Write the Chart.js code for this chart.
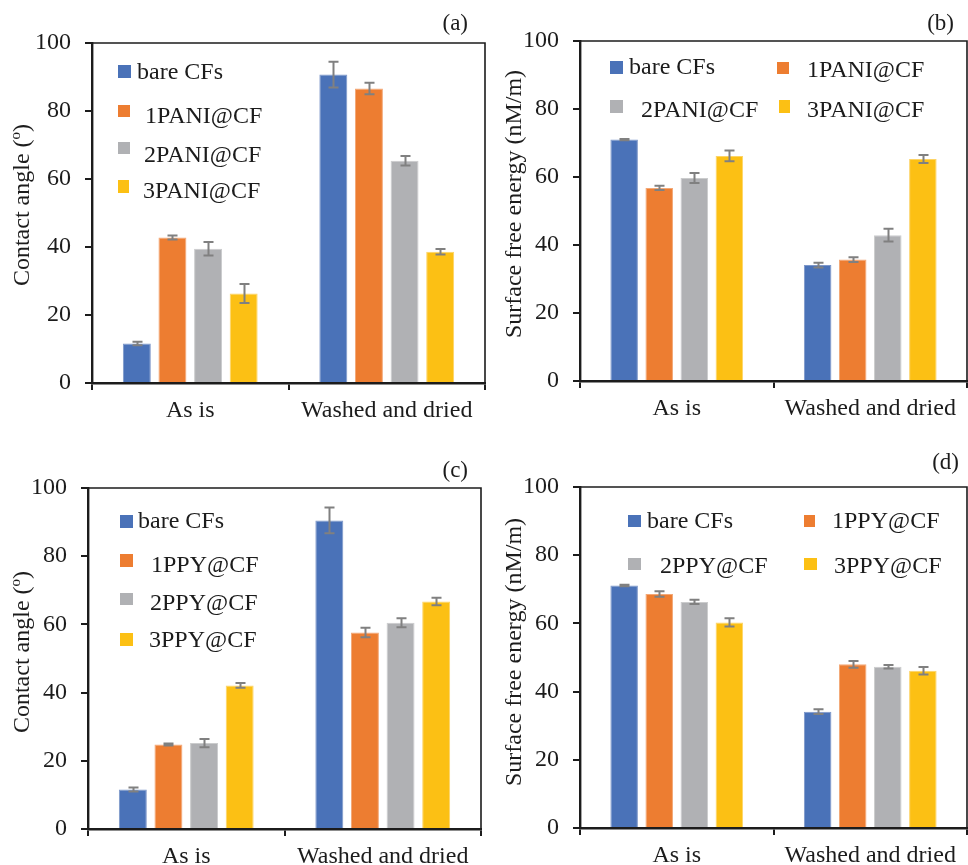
<!DOCTYPE html>
<html><head><meta charset="utf-8">
<script src="https://cdn.jsdelivr.net/npm/chart.js@4.4.1/dist/chart.umd.min.js"></script>
<style>
html,body{margin:0;padding:0;background:#fff;}
body{width:968px;height:865px;position:relative;overflow:hidden;}
canvas{position:absolute;}
</style></head><body>
<canvas id="ca" width="490" height="430" style="left:0;top:0"></canvas>
<canvas id="cb" width="484" height="430" style="left:484px;top:0"></canvas>
<canvas id="cc" width="490" height="435" style="left:0;top:430px"></canvas>
<canvas id="cd" width="484" height="435" style="left:484px;top:430px"></canvas>
<script>
// ---- data ----
const categories = ['As is', 'Washed and dried'];
const yTicks = [0, 20, 40, 60, 80, 100];
const namesPANI = ['bare CFs', '1PANI@CF', '2PANI@CF', '3PANI@CF'];
const namesPPY = ['bare CFs', '1PPY@CF', '2PPY@CF', '3PPY@CF'];

// (a) contact angle, PANI
const caBareA = [11.6, 90.7], caBareAErr = [0.5, 3.8];
const ca1PANI = [42.8, 86.6], ca1PANIErr = [0.6, 1.7];
const ca2PANI = [39.5, 65.4], ca2PANIErr = [2.0, 1.4];
const ca3PANI = [26.3, 38.6], ca3PANIErr = [2.8, 0.8];
// (b) surface free energy, PANI
const sfeBareB = [71.0, 34.1], sfeBareBErr = [0.2, 0.7];
const sfe1PANI = [56.8, 35.7], sfe1PANIErr = [0.6, 0.7];
const sfe2PANI = [59.7, 42.9], sfe2PANIErr = [1.5, 1.9];
const sfe3PANI = [66.2, 65.3], sfe3PANIErr = [1.6, 1.2];
// (c) contact angle, PPY
const caBareC = [11.6, 90.5], caBareCErr = [0.6, 3.8];
const ca1PPY = [24.8, 57.6], ca1PPYErr = [0.3, 1.4];
const ca2PPY = [25.2, 60.5], ca2PPYErr = [1.2, 1.3];
const ca3PPY = [42.1, 66.7], ca3PPYErr = [0.7, 1.1];
// (d) surface free energy, PPY
const sfeBareD = [71.1, 34.1], sfeBareDErr = [0.2, 0.7];
const sfe1PPY = [68.6, 48.0], sfe1PPYErr = [0.8, 1.0];
const sfe2PPY = [66.3, 47.3], sfe2PPYErr = [0.6, 0.5];
const sfe3PPY = [60.3, 46.1], sfe3PPYErr = [1.2, 1.1];

// ---- style ----
const SERIF = '"Liberation Serif", "Times New Roman", serif';
const INK = '#1c1c1c';
const FILLS = ['#4a72b8', '#ed7d31', '#b0b1b4', '#fcc014'];
const EDGES = ['#7d97c9', '#f3a877', '#cbcccd', '#fdd466'];

const decor = {
  id: 'decor',
  afterDatasetsDraw(chart, args, o) {
    const ctx = chart.ctx, y = chart.scales.y;
    ctx.save();
    ctx.strokeStyle = '#808080'; ctx.lineWidth = 2;
    chart.data.datasets.forEach((ds, di) => {
      const meta = chart.getDatasetMeta(di);
      meta.data.forEach((bar, i) => {
        const v = ds.data[i], e = ds.errorBars[i];
        const y1 = y.getPixelForValue(v + e), y2 = y.getPixelForValue(v - e);
        const x = Math.round(bar.x) + 0.5;
        ctx.beginPath();
        ctx.moveTo(x, y1); ctx.lineTo(x, y2);
        ctx.moveTo(x - 5, y1); ctx.lineTo(x + 5, y1);
        ctx.moveTo(x - 5, y2); ctx.lineTo(x + 5, y2);
        ctx.stroke();
      });
    });
    ctx.restore();
  },
  afterDraw(chart, args, o) {
    const ctx = chart.ctx, a = chart.chartArea;
    ctx.save();
    // frame top & right
    ctx.strokeStyle = INK; ctx.lineWidth = 1.6;
    ctx.beginPath();
    ctx.moveTo(a.left, a.top); ctx.lineTo(a.right, a.top); ctx.lineTo(a.right, a.bottom);
    ctx.stroke();
    // legend
    ctx.font = '24px ' + SERIF; ctx.fillStyle = INK; ctx.textBaseline = 'alphabetic'; ctx.textAlign = 'left';
    chart.data.datasets.forEach((ds, i) => {
      const L = o.legend[i];
      ctx.fillStyle = ds.backgroundColor;
      ctx.fillRect(L[0], L[1], L[2], L[3]);
      ctx.fillStyle = INK;
      ctx.fillText(ds.label, L[4], L[5]);
    });
    // tag
    ctx.font = '23px ' + SERIF; ctx.textAlign = 'right';
    ctx.fillText(o.tag, o.tagX, o.tagY);
    // y title
    ctx.translate(o.titleX, o.titleY);
    ctx.rotate(-Math.PI / 2);
    ctx.textBaseline = 'middle'; ctx.textAlign = 'left';
    let total = 0;
    const parts = o.title.map(p => {
      ctx.font = (p.sup ? '15px ' : '24px ') + SERIF;
      const w = ctx.measureText(p.t).width; total += w; return w;
    });
    let x = -total / 2;
    o.title.forEach((p, i) => {
      ctx.font = (p.sup ? '15px ' : '24px ') + SERIF;
      ctx.fillText(p.t, x, p.sup ? -7 : 0);
      x += parts[i];
    });
    ctx.restore();
  }
};

function makeChart(id, P, names, vals, errs, title) {
  return new Chart(document.getElementById(id), {
    type: 'bar',
    data: {
      labels: categories,
      datasets: names.map((n, i) => ({
        label: n, data: vals[i], errorBars: errs[i],
        backgroundColor: FILLS[i], borderColor: EDGES[i], borderWidth: 1,
        categoryPercentage: 0.725, barPercentage: 0.785
      }))
    },
    options: {
      responsive: false, animation: false, devicePixelRatio: 1,
      layout: { padding: { top: P.area.t, right: P.w - P.area.r, left: 0, bottom: 0 } },
      plugins: {
        legend: { display: false }, tooltip: { enabled: false },
        decor: { legend: P.legend, tag: P.tag, tagX: P.tagX, tagY: P.tagY, titleX: P.titleX, titleY: P.titleY, title: title }
      },
      scales: {
        x: {
          grid: { offset: true, drawOnChartArea: false, drawTicks: true, tickLength: 7, color: INK, lineWidth: 2 },
          border: { color: INK, width: 2.4 },
          ticks: { font: { family: SERIF, size: 24 }, color: INK, padding: 6, maxRotation: 0, autoSkip: false },
          afterFit: s => { s.height = P.h - P.area.b; }
        },
        y: {
          min: 0, max: 100,
          afterBuildTicks: s => { s.ticks = yTicks.map(v => ({ value: v })); },
          grid: { drawOnChartArea: false, drawTicks: true, tickLength: 7, color: INK, lineWidth: 2 },
          border: { color: INK, width: 2.4 },
          ticks: { font: { family: SERIF, size: 24 }, color: INK, padding: 14 },
          afterFit: s => { s.width = P.area.l; }
        }
      }
    },
    plugins: [decor]
  });
}

const caTitle = [{ t: 'Contact angle (' }, { t: 'o', sup: true }, { t: ')' }];
const sfeTitle = [{ t: 'Surface free energy (nM/m)' }];

makeChart('ca', {
  w: 490, h: 430, area: { l: 92, t: 43, r: 485, b: 383 },
  tag: '(a)', tagX: 468, tagY: 30, titleX: 23, titleY: 205,
  legend: [[118, 65, 13, 13, 137, 79], [118, 105, 12, 12, 145, 123], [118, 142, 12, 12, 144, 162], [118, 180, 11, 13, 143, 198]]
}, namesPANI, [caBareA, ca1PANI, ca2PANI, ca3PANI], [caBareAErr, ca1PANIErr, ca2PANIErr, ca3PANIErr], caTitle);

makeChart('cb', {
  w: 484, h: 430, area: { l: 96, t: 41, r: 483, b: 381 },
  tag: '(b)', tagX: 470, tagY: 30, titleX: 31, titleY: 204,
  legend: [[126, 61, 13, 13, 145, 74], [293, 62, 12, 12, 323, 77], [126, 100, 13, 13, 157, 117], [295, 100, 11, 13, 323, 117]]
}, namesPANI, [sfeBareB, sfe1PANI, sfe2PANI, sfe3PANI], [sfeBareBErr, sfe1PANIErr, sfe2PANIErr, sfe3PANIErr], sfeTitle);

makeChart('cc', {
  w: 490, h: 435, area: { l: 88, t: 58, r: 481, b: 399 },
  tag: '(c)', tagX: 468, tagY: 47, titleX: 23, titleY: 222,
  legend: [[120, 85, 13, 13, 138, 98], [120, 124, 13, 13, 151, 142], [120, 163, 13, 12, 150, 180], [120, 203, 13, 13, 149, 217]]
}, namesPPY, [caBareC, ca1PPY, ca2PPY, ca3PPY], [caBareCErr, ca1PPYErr, ca2PPYErr, ca3PPYErr], caTitle);

makeChart('cd', {
  w: 484, h: 435, area: { l: 96, t: 57, r: 483, b: 398 },
  tag: '(d)', tagX: 475, tagY: 39, titleX: 31, titleY: 222,
  legend: [[144, 85, 13, 12, 163, 98], [320, 85, 11, 12, 348, 98], [144, 128, 13, 12, 176, 143], [320, 128, 13, 12, 350, 143]]
}, namesPPY, [sfeBareD, sfe1PPY, sfe2PPY, sfe3PPY], [sfeBareDErr, sfe1PPYErr, sfe2PPYErr, sfe3PPYErr], sfeTitle);
</script>
</body></html>
